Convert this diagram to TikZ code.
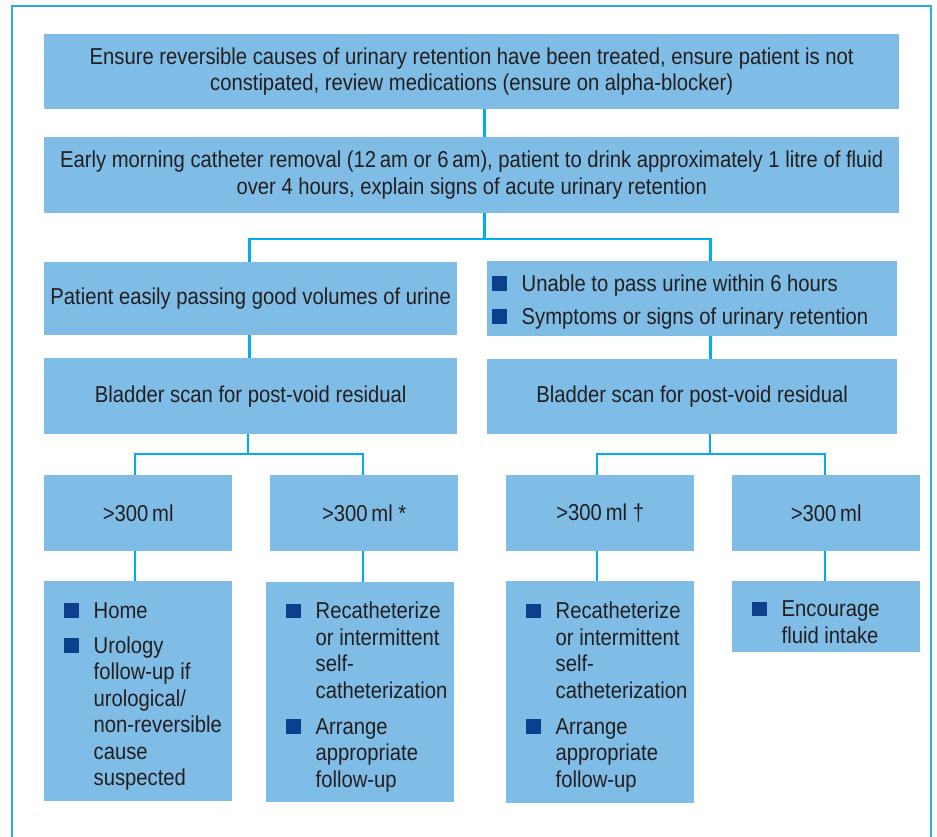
\documentclass[tikz,border=0pt]{standalone}
\usepackage{fontspec}
\setmainfont{Liberation Sans}[FakeStretch=0.88]
\usepackage{xcolor}
\definecolor{boxblue}{RGB}{127,189,230}
\definecolor{linecyan}{RGB}{0,174,239}
\definecolor{framecyan}{RGB}{41,171,226}
\definecolor{bulletblue}{RGB}{12,64,140}
\definecolor{textgray}{RGB}{35,31,32}
\hyphenpenalty=10000
\exhyphenpenalty=10000
\newcommand{\bsq}{\textcolor{bulletblue}{\rule[0.5pt]{14.5pt}{14.5pt}}}
\newcommand{\bitem}[1]{\par\noindent\hangindent=29.5pt\hangafter=1\makebox[29.5pt][l]{\bsq}#1\par}
\tikzset{
  box/.style={fill=boxblue, inner sep=0pt, anchor=north west, text=textgray,
    align=center, font=\fontsize{23}{26.5}\selectfont},
  bulbox/.style={box, align=flush left, text width=#1},
  conn/.style={draw=linecyan, line width=2.5pt, line join=miter},
  frameline/.style={draw=framecyan, line width=2pt}
}
\begin{document}
\begin{tikzpicture}[x=1pt,y=-1pt]
\useasboundingbox (0,0) rectangle (937,837);
\draw[frameline] (12,837) -- (12,6.5) -- (930.5,6.5) -- (930.5,837);

% boxes
\node[box, minimum width=855, minimum height=75] (b1) at (44,34)
  {Ensure reversible causes of urinary retention have been treated, ensure patient is not\\constipated, review medications (ensure on alpha-blocker)};
\node[box, minimum width=855, minimum height=76] (b2) at (44,137)
  {Early morning catheter removal (12\,am or 6\,am), patient to drink approximately 1 litre of fluid\\over 4 hours, explain signs of acute urinary retention};
\node[box, minimum width=413, minimum height=73] (b3l) at (44,262)
  {Patient easily passing good volumes of urine};
\node[bulbox=400pt, minimum width=410, minimum height=75] (b3r) at (487,261)
  {\bitem{Unable to pass urine within 6 hours}\vspace{6.5pt}\bitem{Symptoms or signs of urinary retention}\vspace{4pt}};
\node[box, minimum width=413, minimum height=76] (b4l) at (44,358)
  {Bladder scan for post-void residual};
\node[box, minimum width=410, minimum height=75] (b4r) at (487,359)
  {Bladder scan for post-void residual};
\node[box, minimum width=188, minimum height=76] (b5a) at (44,475) {>300\,ml};
\node[box, minimum width=188, minimum height=76] (b5b) at (270,475) {>300\,ml *};
\node[box, minimum width=188, minimum height=76] (b5c) at (506,475) {>300\,ml †};
\node[box, minimum width=188, minimum height=76] (b5d) at (732,475) {>300\,ml};
\node[bulbox=148pt, minimum width=188, minimum height=220] (b6a) at (44,581)
  {\bitem{Home}\vspace{8.5pt}\bitem{Urology\newline \mbox{follow-up if}\newline urological/\newline non-reversible\newline cause\newline suspected}};
\node[bulbox=148pt, minimum width=188, minimum height=220] (b6b) at (266,582)
  {\bitem{Recatheterize\newline \mbox{or intermittent}\newline self-\newline catheterization}\vspace{9.5pt}\bitem{Arrange\newline appropriate\newline follow-up}};
\node[bulbox=148pt, minimum width=188, minimum height=222] (b6c) at (506,581)
  {\bitem{Recatheterize\newline \mbox{or intermittent}\newline self-\newline catheterization}\vspace{9.5pt}\bitem{Arrange\newline appropriate\newline follow-up}};
\node[bulbox=148pt, minimum width=188, minimum height=71] (b6d) at (732,581)
  {\bitem{Encourage\newline \mbox{fluid intake}}};

% connector positions
\coordinate (j1) at (484.5,239);
\coordinate (xl) at (249.5,0);
\coordinate (xr) at (710.5,0);
\coordinate (j2) at (248,454);
\coordinate (j3) at (710,454);
\coordinate (xa) at (135,0);
\coordinate (xb) at (363,0);
\coordinate (xc) at (597,0);
\coordinate (xd) at (825,0);

% connectors
\draw[conn] (b1.south -| j1) -- (b2.north -| j1);
\draw[conn] (b2.south -| j1) -- (j1);
\draw[conn] (b3l.north -| xl) |- (j1) -| (b3r.north -| xr);
\draw[conn] (b3l.south -| xl) -- (b4l.north -| xl);
\draw[conn] (b3r.south -| xr) -- (b4r.north -| xr);
\draw[conn] (b4l.south -| j2) -- (j2);
\draw[conn] (b5a.north -| xa) |- (j2) -| (b5b.north -| xb);
\draw[conn] (b4r.south -| j3) -- (j3);
\draw[conn] (b5c.north -| xc) |- (j3) -| (b5d.north -| xd);
\draw[conn] (b5a.south -| xa) -- (b6a.north -| xa);
\draw[conn] (b5b.south -| xb) -- (b6b.north -| xb);
\draw[conn] (b5c.south -| xc) -- (b6c.north -| xc);
\draw[conn] (b5d.south -| xd) -- (b6d.north -| xd);
\end{tikzpicture}
\end{document}
